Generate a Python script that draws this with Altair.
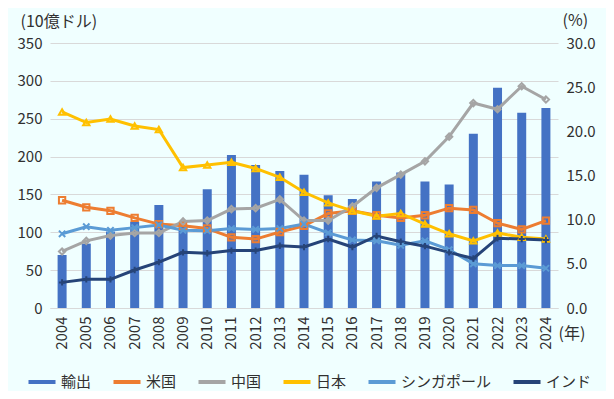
import altair as alt
import pandas as pd

years = [str(y) for y in range(2004, 2025)]
exports = [70, 85, 101, 114, 136, 110, 157, 202, 189, 181, 176, 149, 144, 167, 179, 167, 163, 230, 291, 258, 264]
us = [12.2, 11.4, 11.0, 10.2, 9.5, 9.3, 9.0, 8.0, 7.8, 8.6, 9.3, 10.7, 11.0, 10.5, 10.2, 10.5, 11.3, 11.1, 9.6, 8.9, 9.9]
china = [6.4, 7.6, 8.2, 8.5, 8.5, 9.8, 9.9, 11.2, 11.3, 12.3, 9.9, 9.9, 11.5, 13.6, 15.1, 16.6, 19.4, 23.2, 22.5, 25.1, 23.6]
japan = [22.2, 21.0, 21.4, 20.6, 20.2, 15.9, 16.2, 16.5, 15.8, 14.8, 13.1, 11.9, 11.0, 10.4, 10.7, 9.5, 8.4, 7.6, 8.5, 8.0, 7.8]
singapore = [8.4, 9.2, 8.8, 9.1, 9.4, 8.8, 8.75, 9.0, 8.9, 9.0, 9.5, 8.5, 7.7, 7.6, 7.1, 7.6, 6.6, 5.0, 4.8, 4.8, 4.5]
india = [2.9, 3.25, 3.25, 4.3, 5.2, 6.3, 6.2, 6.5, 6.5, 7.05, 6.9, 7.8, 6.9, 8.15, 7.5, 7.0, 6.3, 5.6, 7.9, 7.8, 7.7]

series_names = ["輸出", "米国", "中国", "日本", "シンガポール", "インド"]
colors = ["#4472C4", "#ED7D31", "#A5A5A5", "#FFC000", "#5B9BD5", "#264478"]
line_shapes = ["square", "diamond", "triangle-up", "M-1,-1L1,1M-1,1L1,-1", "M-1,0L1,0M0,-1L0,1"]

bar_df = pd.DataFrame({"year": years, "value": exports, "series": "輸出"})
rows = []
for name, vals in zip(series_names[1:], [us, china, japan, singapore, india]):
    for y, v in zip(years, vals):
        rows.append({"year": y, "value": v, "series": name})
line_df = pd.DataFrame(rows)

FONT = "Noto Sans CJK JP"
TXT = "#303030"

color_scale = alt.Scale(domain=series_names, range=colors)
legend = alt.Legend(
    title=None, orient="none", direction="horizontal", legendX=-24, legendY=323,
    symbolType="stroke", symbolStrokeWidth=4, symbolSize=730, labelFontSize=15,
    labelFont=FONT, labelColor=TXT, columnPadding=13, labelOffset=3,
)

x_enc = alt.X("year:O", sort=years, scale=alt.Scale(paddingInner=0.0, paddingOuter=0.0),
              axis=alt.Axis(title="(年)", labelAngle=-90, labelFontSize=15, labelFont=FONT,
                            labelColor=TXT, labelPadding=8, ticks=False, domainColor="#D9D9D9",
                            titleAngle=0, titleX=508, titleY=25, titleAlign="left",
                            titleBaseline="middle", titleFontSize=16, titleFont=FONT,
                            titleFontWeight="normal", titleColor=TXT))

bars = alt.Chart(bar_df).mark_bar(size=9).encode(
    x=x_enc,
    y=alt.Y("value:Q", scale=alt.Scale(domain=[0, 350]),
            axis=alt.Axis(title="(10億ドル)", values=list(range(0, 351, 50)), labelFontSize=15,
                          labelFont=FONT, labelColor=TXT, ticks=False, domain=False,
                          gridColor="#D9D9D9", labelPadding=8,
                          titleAngle=0, titleX=-30, titleY=-22, titleAlign="left",
                          titleBaseline="middle", titleFontSize=16, titleFont=FONT,
                          titleFontWeight="normal", titleColor=TXT)),
    color=alt.Color("series:N", scale=color_scale, sort=series_names, legend=legend),
)

right_axis = alt.Axis(title="(%)", orient="right", values=list(range(0, 31, 5)), format=".1f",
                      labelFontSize=15, labelFont=FONT, labelColor=TXT, ticks=False,
                      domain=False, grid=False, labelPadding=8,
                      titleAngle=0, titleX=4, titleY=-23, titleAlign="left",
                      titleBaseline="middle", titleFontSize=16, titleFont=FONT,
                      titleFontWeight="normal", titleColor=TXT)
y_right = alt.Y("value:Q", scale=alt.Scale(domain=[0, 30]), axis=right_axis)

lines = alt.Chart(line_df).mark_line(strokeWidth=3).encode(
    x=x_enc, y=y_right,
    color=alt.Color("series:N", scale=color_scale, sort=series_names, legend=legend),
    detail="series:N",
)
points = alt.Chart(line_df).mark_point(filled=False, size=40, strokeWidth=2, opacity=1).encode(
    x=x_enc, y=y_right,
    color=alt.Color("series:N", scale=color_scale, sort=series_names, legend=legend),
    shape=alt.Shape("series:N", scale=alt.Scale(domain=series_names[1:], range=line_shapes), legend=None),
)

chart = alt.layer(bars, alt.layer(lines, points)).resolve_scale(y="independent").properties(
    width=508, height=265,
    autosize=alt.AutoSizeParams(type="none"),
    padding={"left": 42, "top": 35, "right": 48, "bottom": 83},
    background="#F0FFFF",
).configure_view(stroke=None)

chart.save("out.html", embed_options={"renderer": "svg", "actions": False})
